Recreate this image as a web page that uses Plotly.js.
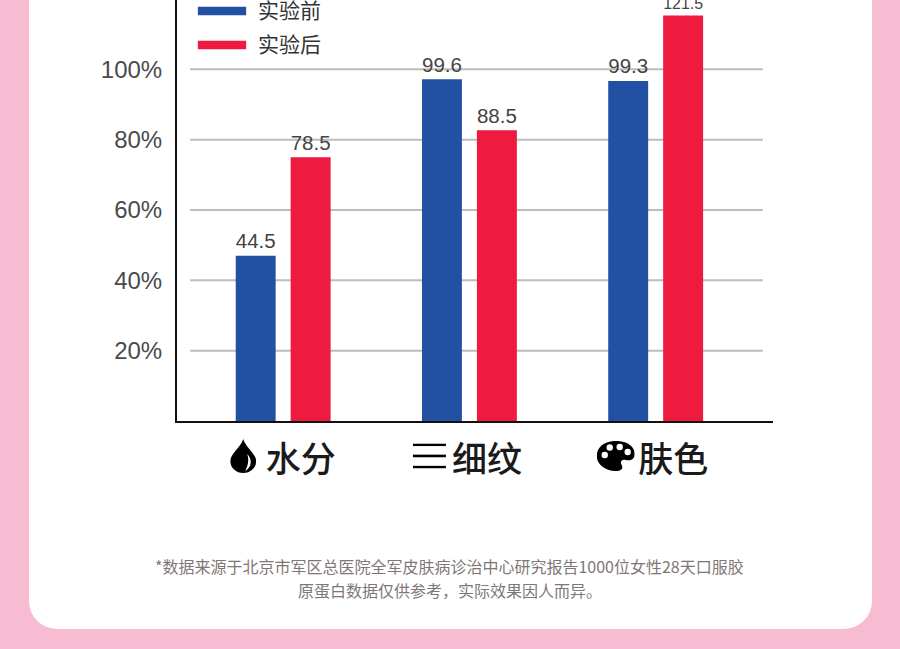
<!DOCTYPE html>
<html>
<head>
<meta charset="utf-8">
<script src="https://cdn.plot.ly/plotly-3.0.1.min.js"></script>
<style>
  body { margin: 0; width: 900px; height: 649px; overflow: hidden; position: relative; background: #f7bcd1; }
  .card { position: absolute; left: 29px; top: -40px; width: 843px; height: 669px; background: #fff; border-radius: 28px; }
  #chart { position: absolute; left: 0; top: 0; }
</style>
</head>
<body>
<div class="card"></div>
<div id="chart"></div>
<script>
// data
var categories = ['水分', '细纹', '肤色'];
var seriesNames = ['实验前', '实验后'];
var beforeLabels = [44.5, 99.6, 99.3];
var afterLabels = [78.5, 88.5, 121.5];
// bar heights as drawn, read against the % axis
var beforeHeights = [47.0, 97.2, 96.7];
var afterHeights = [75.0, 82.7, 115.3];
var tickVals = [20, 40, 60, 80, 100];
var tickText = ['20%', '40%', '60%', '80%', '100%'];
var footnoteLines = [
  '*数据来源于北京市军区总医院全军皮肤病诊治中心研究报告1000位女性28天口服胶',
  '原蛋白数据仅供参考，实际效果因人而异。'
];

var colors = ['#2251a4', '#ef1a3f'];
var numFont = 'Liberation Sans, Arial, sans-serif';
var cjkFont = 'Noto Sans CJK SC, sans-serif';

function svgUri(svg) {
  return 'data:image/svg+xml;charset=utf-8,' + encodeURIComponent(svg);
}

var icons = [
  { w: 26, h: 34, svg: '<svg xmlns="http://www.w3.org/2000/svg" viewBox="0 0 26 34">' +
      '<path d="M13,0 C15,8 26,15 26,22 A13,12 0 0 1 0,22 C0,15 11,8 13,0 Z" fill="#000"/>' +
      '<path d="M17,15 C22,20 22,28 15,32 C18,26 19,21 17,15 Z" fill="#fff"/></svg>' },
  { w: 33, h: 25, svg: '<svg xmlns="http://www.w3.org/2000/svg" viewBox="0 0 33 25">' +
      '<rect x="0" y="0" width="33" height="2.6" fill="#000"/>' +
      '<rect x="0" y="11.2" width="33" height="2.6" fill="#000"/>' +
      '<rect x="0" y="22.4" width="33" height="2.6" fill="#000"/></svg>' },
  { w: 38, h: 30, svg: '<svg xmlns="http://www.w3.org/2000/svg" viewBox="0 0 38 30">' +
      '<path d="M19,0 C31,0 38,6 38,13 C38,19 33,20 29,19 C25,18 23,21 25,24 C27,28 24,30 19,30 C8,30 0,23 0,15 C0,6 8,0 19,0 Z" fill="#000"/>' +
      '<circle cx="8" cy="14" r="3.2" fill="#fff"/>' +
      '<circle cx="13" cy="6.5" r="3.2" fill="#fff"/>' +
      '<circle cx="23" cy="6" r="3.2" fill="#fff"/>' +
      '<circle cx="31" cy="11" r="3.2" fill="#fff"/></svg>' }
];

var unitPx = 186.5;
var plotH = 421;

var data = [
  {
    type: 'bar', name: seriesNames[0], x: categories, y: beforeHeights,
    text: beforeLabels.map(function (v) { return v.toFixed(1); }),
    textposition: 'outside', cliponaxis: false,
    textfont: { family: numFont, size: 23, color: '#444' },
    marker: { color: colors[0] }, hoverinfo: 'skip'
  },
  {
    type: 'bar', name: seriesNames[1], x: categories, y: afterHeights,
    text: afterLabels.map(function (v) { return v.toFixed(1); }),
    textposition: 'outside', cliponaxis: false,
    textfont: { family: numFont, size: 23, color: '#444' },
    marker: { color: colors[1] }, hoverinfo: 'skip'
  }
];

var shapes = tickVals.map(function (v) {
  return { type: 'line', xref: 'paper', yref: 'y', x0: 0.022, x1: 0.983, y0: v, y1: v,
    line: { color: '#bdbdbd', width: 2 }, layer: 'below' };
});
var annotations = [];
seriesNames.forEach(function (n, i) {
  var yc = i === 0 ? 0.974 : 0.893;
  shapes.push({ type: 'rect', xref: 'paper', yref: 'paper', x0: 0.035, x1: 0.116,
    y0: yc - 0.01, y1: yc + 0.01, fillcolor: colors[i], line: { width: 0 } });
  annotations.push({ xref: 'paper', yref: 'paper', x: 0.133, y: yc + 0.004, xanchor: 'left', yanchor: 'middle',
    text: n, showarrow: false, font: { family: cjkFont, size: 21, color: '#333' } });
});
footnoteLines.forEach(function (t, i) {
  annotations.push({ xref: 'paper', yref: 'paper', x: 0.458, y: i === 0 ? -0.344 : -0.401,
    xanchor: 'center', yanchor: 'middle', text: t, showarrow: false,
    font: { family: cjkFont, size: 16, color: '#7f7777' } });
});

var images = icons.map(function (ic, i) {
  return { source: svgUri(ic.svg), xref: 'x', yref: 'paper', x: i - 40 / unitPx, y: -0.083,
    xanchor: 'center', yanchor: 'middle', sizex: ic.w / unitPx, sizey: ic.h / plotH,
    sizing: 'stretch', layer: 'above' };
});

var layout = {
  width: 900, height: 649,
  margin: { l: 177, r: 127, t: 0, b: 228 },
  paper_bgcolor: 'rgba(0,0,0,0)', plot_bgcolor: 'rgba(0,0,0,0)',
  showlegend: false,
  barmode: 'group', bargap: 0.41, bargroupgap: 0.273,
  xaxis: {
    type: 'category', range: [-0.57, 2.63], fixedrange: true,
    tickmode: 'array', tickvals: categories,
    ticktext: categories.map(function (c) { return '\u3000' + c; }),
    tickfont: { family: cjkFont, size: 35, color: '#1a1a1a', weight: 500 },
    ticks: '', ticklabelstandoff: 7,
    showline: true, linecolor: '#111', linewidth: 2, showgrid: false, zeroline: false
  },
  yaxis: {
    range: [0, 119.7], fixedrange: true,
    tickmode: 'array', tickvals: tickVals, ticktext: tickText,
    tickfont: { family: numFont, size: 24, color: '#4a4a4a' },
    ticks: '', ticklabelstandoff: 8,
    showline: true, linecolor: '#111', linewidth: 2, showgrid: false, zeroline: false
  },
  shapes: shapes,
  annotations: annotations,
  images: images
};

Plotly.newPlot('chart', data, layout, { displayModeBar: false, staticPlot: true });
</script>
</body>
</html>
